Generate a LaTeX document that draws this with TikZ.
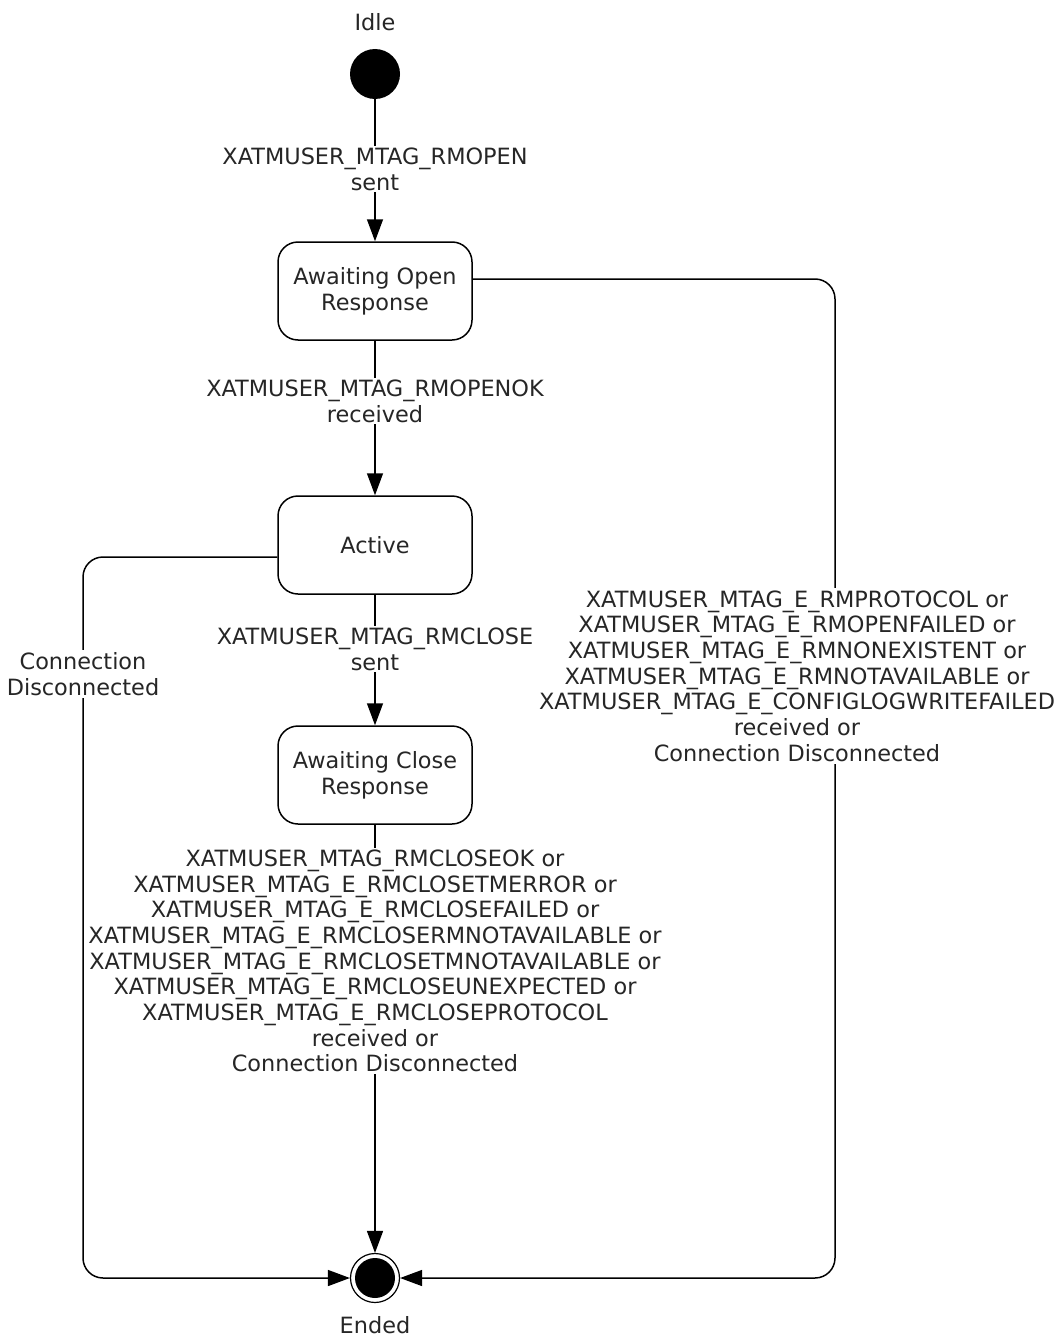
\documentclass[tikz,border=0pt]{standalone}
\usepackage{fontspec}
\setmainfont{DejaVu Sans}
\usetikzlibrary{arrows.meta}
\begin{document}
\begin{tikzpicture}[x=1pt,y=-1pt,
  txt/.style={font=\fontsize{22.4}{25.7}\selectfont, text=black!85, align=center, inner sep=2pt},
  lbl/.style={txt, fill=white},
  state/.style={txt, draw, line width=1.5pt, rounded corners=20pt, minimum width=194pt, minimum height=98pt},
  conn/.style={line width=1.5pt, -{Triangle[length=22pt,width=16pt]}},
  plain/.style={line width=1.5pt}
]
\useasboundingbox (0,0) rectangle (1061,1338);
\node[txt] (idlelbl) at (375,22) {Idle};
\node[circle, fill=black, minimum size=50pt, inner sep=0pt] (start) at (375,74) {};
\node[state] (open) at (375,291) {Awaiting Open\\Response};
\node[state] (active) at (375,545) {Active};
\node[state] (close) at (375,775) {Awaiting Close\\Response};
\node[circle, draw, line width=1.2pt, minimum size=49pt, inner sep=0pt] (endo) at (375,1278) {};
\node[circle, fill=black, minimum size=40pt, inner sep=0pt] (endi) at (375,1278) {};
\node[txt, inner sep=0pt] (endlbl) at (375,1325) {Ended};

\draw[conn] (start) -- (open);
\node[lbl] (l1) at (375,169) {XATMUSER\_MTAG\_RMOPEN\\sent};
\draw[conn] (open) -- (active);
\node[lbl] (l2) at (375,401) {XATMUSER\_MTAG\_RMOPENOK\\received};
\draw[conn] (active) -- (close);
\node[lbl] (l3) at (375,649) {XATMUSER\_MTAG\_RMCLOSE\\sent};
\draw[conn] (close) -- (endo);
\node[lbl] (l4) at (375,961) {XATMUSER\_MTAG\_RMCLOSEOK or\\XATMUSER\_MTAG\_E\_RMCLOSETMERROR or\\XATMUSER\_MTAG\_E\_RMCLOSEFAILED or\\XATMUSER\_MTAG\_E\_RMCLOSERMNOTAVAILABLE or\\XATMUSER\_MTAG\_E\_RMCLOSETMNOTAVAILABLE or\\XATMUSER\_MTAG\_E\_RMCLOSEUNEXPECTED or\\XATMUSER\_MTAG\_E\_RMCLOSEPROTOCOL\\received or\\Connection Disconnected};

\coordinate (lt) at (83,557);
\coordinate (lb) at (83,1278);
\draw[conn, rounded corners=20pt] (active.west |- lt) -- (lt) -- (lb) -- (endo.west);
\node[lbl] (l5) at (83,674) {Connection\\Disconnected};

\coordinate (rt) at (835,279);
\coordinate (rb) at (835,1278);
\draw[conn, rounded corners=20pt] (open.east |- rt) -- (rt) -- (rb) -- (endo.east);
\node[lbl] (l6) at (797,676) {XATMUSER\_MTAG\_E\_RMPROTOCOL or\\XATMUSER\_MTAG\_E\_RMOPENFAILED or\\XATMUSER\_MTAG\_E\_RMNONEXISTENT or\\XATMUSER\_MTAG\_E\_RMNOTAVAILABLE or\\XATMUSER\_MTAG\_E\_CONFIGLOGWRITEFAILED\\received or\\Connection Disconnected};
\end{tikzpicture}
\end{document}
